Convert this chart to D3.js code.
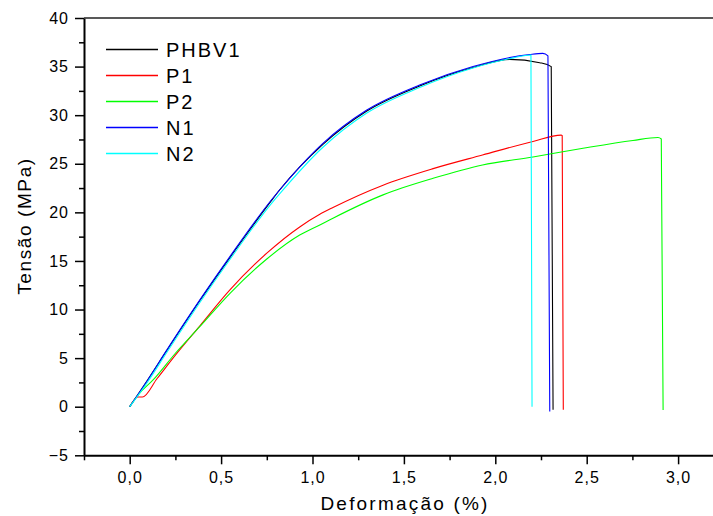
<!DOCTYPE html>
<html>
<head>
<meta charset="utf-8">
<script src="https://cdn.jsdelivr.net/npm/d3@7"></script>
<style>
  body { margin: 0; background: #fff; }
  svg { display: block; font-family: "Liberation Sans", Arial, sans-serif; }
</style>
</head>
<body>
<div id="wrapper"></div>
<script>
// series names and colours
const seriesNames = ["PHBV1", "P1", "P2", "N1", "N2"]
const seriesColors = ["#000000", "#ff0000", "#00ff00", "#0000ff", "#00ffff"]

// [strain %, stress MPa]
const phbv1 = [[0,0],[0.1,2.8],[0.2,5.7],[0.383,10.9],[0.55,15.4],[0.775,21.2],[0.82,22.3],[1.057,27.0],[1.295,30.4],[1.586,33.0],[1.878,34.9],[2.079,35.74],[2.243,35.4],[2.306,35.0],[2.316,-0.3]]
const p1 = [[0,0],[0.045,1.0],[0.07,1.0],[0.15,2.9],[0.25,5.3],[0.383,8.3],[0.547,12.0],[0.75,15.8],[0.93,18.5],[1.04,19.8],[1.112,20.5],[1.386,22.8],[1.66,24.5],[1.93,25.9],[2.206,27.3],[2.36,27.95],[2.366,27.9],[2.372,-0.3]]
const p2 = [[0,0],[0.05,1.3],[0.128,2.75],[0.25,5.5],[0.383,8.23],[0.55,11.7],[0.75,15.2],[0.93,17.66],[1.04,18.7],[1.112,19.4],[1.386,21.8],[1.66,23.5],[1.93,24.87],[2.206,25.7],[2.48,26.6],[2.753,27.4],[2.89,27.7],[2.908,27.55],[2.918,-0.34]]
const n1 = [[0,0],[0.1,2.8],[0.2,5.75],[0.383,10.97],[0.55,15.5],[0.775,21.27],[0.82,22.3],[1.057,27.1],[1.295,30.5],[1.586,33.1],[1.878,35.0],[2.188,36.25],[2.26,36.36],[2.288,36.1],[2.298,-0.5]]
const n2 = [[0,0],[0.1,2.6],[0.2,5.5],[0.383,10.7],[0.55,15.2],[0.775,20.9],[0.82,21.9],[1.057,26.7],[1.295,30.2],[1.586,32.85],[1.878,34.85],[2.1,35.9],[2.195,36.2],[2.201,0]]
const seriesData = [phbv1, p1, p2, n1, n2]

// ticks
const xMajor = [0, 0.5, 1.0, 1.5, 2.0, 2.5, 3.0]
const xMinor = [-0.25, 0.25, 0.75, 1.25, 1.75, 2.25, 2.75, 3.25]
const yMajor = [-5, 0, 5, 10, 15, 20, 25, 30, 35, 40]
const yMinor = [-2.5, 2.5, 7.5, 12.5, 17.5, 22.5, 27.5, 32.5, 37.5]

const dimensions = {
    width: 713,
    height: 516,
    margin: { top: 18, left: 84 }
}

const wrapper = d3.select('#wrapper')
    .append('svg')
    .attr('width', dimensions.width)
    .attr('height', dimensions.height)

const xScale = d3.scaleLinear()
    .domain([-0.25, 3.25])
    .range([dimensions.margin.left, dimensions.margin.left + 3.5 * 182.8])

const yScale = d3.scaleLinear()
    .domain([-5, 40])
    .range([455.3, dimensions.margin.top])

const fmt = d => d3.format(".1f")(d).replace(".", ",")

// minor ticks first, then major ticks with labels
wrapper.append('g')
    .attr('transform', `translate(0,${yScale(-5)})`)
    .call(d3.axisBottom(xScale).tickValues(xMinor).tickSize(5).tickFormat(''))
    .call(g => g.select('.domain').remove())

const xAxis = wrapper.append('g')
    .attr('transform', `translate(0,${yScale(-5)})`)
    .call(d3.axisBottom(xScale).tickValues(xMajor).tickSize(9).tickPadding(7).tickSizeOuter(0).tickFormat(fmt))

wrapper.append('g')
    .attr('transform', `translate(${xScale(-0.25)},0)`)
    .call(d3.axisLeft(yScale).tickValues(yMinor).tickSize(5).tickFormat(''))
    .call(g => g.select('.domain').remove())

const yAxis = wrapper.append('g')
    .attr('transform', `translate(${xScale(-0.25)},0)`)
    .call(d3.axisLeft(yScale).tickValues(yMajor).tickSize(9).tickPadding(6).tickSizeOuter(0))

wrapper.selectAll('.tick line').attr('stroke', '#000').attr('stroke-width', 1.5)
wrapper.selectAll('.domain').attr('stroke', '#000').attr('stroke-width', 2)
wrapper.selectAll('.tick text')
    .attr('fill', '#000')
    .style('font-size', '16px')
    .style('letter-spacing', '1px')
    .style('font-family', '"Liberation Sans", Arial, sans-serif')

// top frame line
wrapper.append('line')
    .attr('x1', xScale(-0.25))
    .attr('x2', dimensions.width)
    .attr('y1', yScale(40))
    .attr('y2', yScale(40))
    .attr('stroke', '#222')
    .attr('stroke-width', 1.5)

// curves
const line = d3.line()
    .x(d => xScale(d[0]))
    .y(d => yScale(d[1]))
    .curve(d3.curveMonotoneX)

wrapper.append('g')
    .selectAll('path')
    .data(seriesData)
    .join('path')
    .attr('d', d => line(d))
    .attr('fill', 'none')
    .attr('stroke', (d, i) => seriesColors[i])
    .attr('stroke-width', 1.1)

// legend
const legend = wrapper.append('g')
    .selectAll('g')
    .data(seriesNames)
    .join('g')
    .attr('transform', (d, i) => `translate(106,${49.5 + i * 26})`)

legend.append('line')
    .attr('x1', 0)
    .attr('x2', 52)
    .attr('stroke', (d, i) => seriesColors[i])
    .attr('stroke-width', 1.3)

legend.append('text')
    .attr('x', 60)
    .attr('dy', '0.36em')
    .text(d => d)
    .style('font-size', '20px')
    .style('letter-spacing', '2px')

// axis titles
wrapper.append('text')
    .attr('x', 405)
    .attr('y', 510)
    .attr('text-anchor', 'middle')
    .style('font-size', '19px')
    .style('letter-spacing', '2.2px')
    .text('Deformação (%)')

wrapper.append('text')
    .attr('transform', 'translate(31,226) rotate(-90)')
    .attr('text-anchor', 'middle')
    .style('font-size', '19px')
    .style('letter-spacing', '1.6px')
    .text('Tensão (MPa)')
</script>
</body>
</html>
